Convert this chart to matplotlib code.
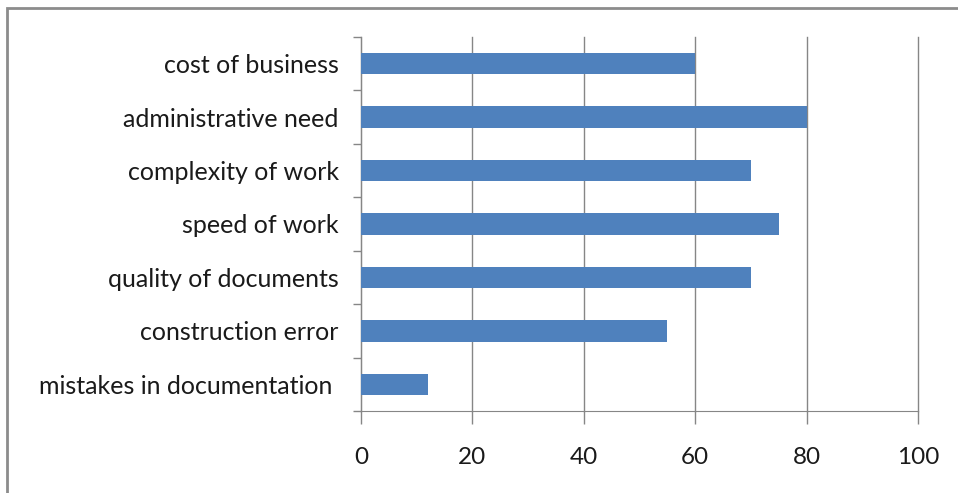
import matplotlib.pyplot as plt
import numpy as np

# dati
categories = ['mistakes in documentation ', 'construction error', 'quality of documents',
              'speed of work', 'complexity of work', 'administrative need', 'cost of business']
values = [12, 55, 70, 75, 70, 80, 60]
x_ticks = [0, 20, 40, 60, 80, 100]

bar_color = '#4f81bd'
grid_color = '#868686'

plt.rcParams['font.family'] = ['Lato', 'DejaVu Sans']

fig = plt.figure(figsize=(9.58, 4.93), dpi=100)
ax = fig.add_axes([0.3768, 0.1663, 0.5814, 0.7587])

y = np.arange(len(categories))
ax.barh(y, values, height=0.4, color=bar_color, zorder=3)

ax.set_xlim(0, 100)
ax.set_ylim(-0.5, len(categories) - 0.5)
ax.set_xticks(x_ticks)
ax.set_xticklabels([str(t) for t in x_ticks], fontsize=17.5, color='#1a1a1a')
ax.set_yticks(y)
ax.set_yticklabels(categories, fontsize=18, color='#1a1a1a')
ax.tick_params(axis='y', which='major', length=0, pad=16)
ax.set_yticks(np.arange(len(categories) + 1) - 0.5, minor=True)
ax.tick_params(axis='y', which='minor', length=6, color=grid_color, width=1)
ax.tick_params(axis='x', length=9, color=grid_color, width=1, pad=17)

ax.grid(axis='x', color=grid_color, linewidth=1, zorder=0)
for line in ax.get_xgridlines():
    line.set_clip_on(False)
for s in ['top', 'right']:
    ax.spines[s].set_visible(False)
ax.spines['left'].set_color(grid_color)
ax.spines['bottom'].set_color(grid_color)

# cornice esterna
fig.patches.append(plt.Rectangle((7 / 958, -0.05), 1.0, 1 - 8 / 493 + 0.05,
                                 transform=fig.transFigure, fill=False,
                                 edgecolor='#8c8c8c', linewidth=2))

fig.savefig('out.png', dpi=100)
